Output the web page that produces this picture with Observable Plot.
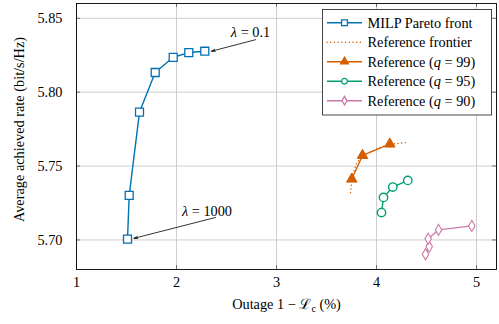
<!DOCTYPE html>
<html><head><meta charset="utf-8">
<script src="https://cdn.jsdelivr.net/npm/d3@7"></script>
<script src="https://cdn.jsdelivr.net/npm/@observablehq/plot@0.6"></script>
<style>
body{margin:0;background:#fff}
svg{font-family:"Liberation Serif","Times New Roman",serif}
</style>
</head><body><div id="chart"></div>
<script>
// ---- data ----
const milpOutage   = [1.51, 1.527, 1.63, 1.787, 1.967, 2.123, 2.283];
const milpRate     = [5.7005, 5.7302, 5.7865, 5.8133, 5.8236, 5.8268, 5.8277];
const frontOutage  = [3.74, 3.76, 3.80, 3.86, 3.95, 4.05, 4.17, 4.31];
const frontRate    = [5.732, 5.744, 5.752, 5.757, 5.760, 5.763, 5.765, 5.766];
const q99Outage    = [3.753, 3.86, 4.133];
const q99Rate      = [5.7412, 5.7572, 5.7649];
const q95Outage    = [4.05, 4.07, 4.163, 4.313];
const q95Rate      = [5.7185, 5.7288, 5.7358, 5.7403];
const q90Outage    = [4.49, 4.527, 4.517, 4.62, 4.953];
const q90Rate      = [5.6903, 5.6955, 5.7008, 5.7068, 5.7095];
const xTicks = [1, 2, 3, 4, 5];
const yTicks = [5.70, 5.75, 5.80, 5.85];
const legendLabels = ["MILP Pareto front", "Reference frontier", "Reference (q = 99)", "Reference (q = 95)", "Reference (q = 90)"];
const annotText = ["λ = 0.1", "λ = 1000"];
const annotTextX = [2.74, 2.305];
const annotTextY = [5.8405, 5.7196];
const arrowFromX = [2.79, 2.39];
const arrowFromY = [5.8355, 5.7152];
const arrowToX   = [2.35, 1.575];
const arrowToY   = [5.8277, 5.7011];

const C = {blue:"#0072B2", orange:"#D55E00", green:"#009E73", pink:"#CC79A7"};
const zip = (xs, ys) => xs.map((x, i) => ({x, y: ys[i]}));
const milp = zip(milpOutage, milpRate);
const front = zip(frontOutage, frontRate);
const q99 = zip(q99Outage, q99Rate);
const q95 = zip(q95Outage, q95Rate);
const q90 = zip(q90Outage, q90Rate);
const annots = annotText.map((t, i) => ({t, x: annotTextX[i], y: annotTextY[i], x1: arrowFromX[i], y1: arrowFromY[i], x2: arrowToX[i], y2: arrowToY[i]}));

const W = 499, H = 324, mL = 76, mR = 3, mT = 3, mB = 55;
const fw = W - mL - mR, fh = H - mT - mB;
const FS = 14.3;

const plot = Plot.plot({
  width: W, height: H,
  marginLeft: mL, marginRight: mR, marginTop: mT, marginBottom: mB,
  style: {fontFamily: '"Liberation Serif","Times New Roman",serif', fontSize: FS + "px", background: "#fff", color: "#000"},
  x: {domain: [1, 5.2]},
  y: {domain: [5.68, 5.86]},
  marks: [
    Plot.gridX(xTicks, {stroke: "#c8c8c8", strokeOpacity: 1, strokeWidth: 0.9}),
    Plot.gridY(yTicks, {stroke: "#c8c8c8", strokeOpacity: 1, strokeWidth: 0.9}),
    Plot.tickX(xTicks, {x: d => d, insetTop: fh - 4, stroke: "#555", strokeWidth: 0.8}),
    Plot.tickX(xTicks, {x: d => d, insetBottom: fh - 4, stroke: "#555", strokeWidth: 0.8}),
    Plot.tickY(yTicks, {y: d => d, insetRight: fw - 4, stroke: "#555", strokeWidth: 0.8}),
    Plot.tickY(yTicks, {y: d => d, insetLeft: fw - 4, stroke: "#555", strokeWidth: 0.8}),
    Plot.axisX(xTicks, {tickSize: 0, tickPadding: 7, label: null, fontSize: FS}),
    Plot.axisY(yTicks, {tickSize: 0, tickPadding: 14, label: null, tickFormat: d3.format(".2f"), fontSize: FS}),
    Plot.frame({stroke: "#000", strokeWidth: 0.9}),
    // series
    Plot.line(front, {x: "x", y: "y", stroke: C.orange, strokeWidth: 1.4, strokeDasharray: "0.1,3.6", strokeLinecap: "round"}),
    Plot.line(milp, {x: "x", y: "y", stroke: C.blue, strokeWidth: 1.4}),
    Plot.dot(milp, {x: "x", y: "y", symbol: "square", r: 4.5, stroke: C.blue, fill: "white", strokeWidth: 1.3}),
    Plot.line(q99, {x: "x", y: "y", stroke: C.orange, strokeWidth: 1.4}),
    Plot.dot(q99, {x: "x", y: "y", symbol: "triangle", r: 3.9, fill: C.orange, stroke: C.orange, strokeWidth: 1}),
    Plot.line(q95, {x: "x", y: "y", stroke: C.green, strokeWidth: 1.4}),
    Plot.dot(q95, {x: "x", y: "y", symbol: "circle", r: 4.2, stroke: C.green, fill: "white", strokeWidth: 1.4}),
    Plot.line(q90, {x: "x", y: "y", stroke: C.pink, strokeWidth: 1.3}),
    Plot.dot(q90, {x: "x", y: "y", symbol: "diamond", r: 3.4, stroke: C.pink, fill: "white", strokeWidth: 1.1}),
    // annotations
    Plot.arrow(annots, {x1: "x1", y1: "y1", x2: "x2", y2: "y2", stroke: "#000", strokeWidth: 0.8, headLength: 7, headAngle: 35}),
    Plot.text(annots, {x: "x", y: "y", text: "t", fontSize: FS, fill: "#000"}),
    // axis labels
    Plot.text(["Outage 1 − ℒc (%)"], {frameAnchor: "bottom", dy: 39, fontSize: FS, fill: "#000", className: "xlab"}),
    Plot.text(["Average achieved rate (bit/s/Hz)"], {frameAnchor: "left", textAnchor: "middle", dx: -57, dy: -7, rotate: -90, fontSize: FS, fill: "#000"})
  ]
});

document.getElementById("chart").append(plot);
const svg = d3.select(plot);

// subscript on x label
svg.selectAll(".xlab text").each(function() {
  const t = d3.select(this);
  t.text(null);
  t.append("tspan").text("Outage 1 − ℒ");
  t.append("tspan").attr("font-size", "10px").attr("dy", "3").text("c");
  t.append("tspan").attr("dy", "-3").text(" (%)");
});
// italic lambda
svg.selectAll("text").each(function() {
  const t = d3.select(this);
  const s = t.text();
  if (s.startsWith("λ") && t.selectAll("tspan").empty()) {
    t.text(null);
    t.append("tspan").attr("font-style", "italic").text("λ");
    t.append("tspan").text(s.slice(1));
  }
});

// legend
const lx = 322.5, ly = 9.5, lw = 169, lh = 105.5;
const g = svg.append("g").attr("text-anchor", "start");
g.append("rect").attr("x", lx).attr("y", ly).attr("width", lw).attr("height", lh)
  .attr("fill", "white").attr("stroke", "#333").attr("stroke-width", 0.9);
const items = [
  {c: C.blue, sym: d3.symbolSquare, r: 3.3, fill: "white", dash: null},
  {c: C.orange, sym: null, dash: "0.1,3.6"},
  {c: C.orange, sym: d3.symbolTriangle, r: 2.9, fill: C.orange, dash: null},
  {c: C.green, sym: d3.symbolCircle, r: 2.9, fill: "white", dash: null},
  {c: C.pink, sym: d3.symbolDiamond, r: 2.6, fill: "white", dash: null}
];
items.forEach((it, i) => {
  const y = ly + 13.2 + i * 19.5;
  const row = g.append("g");
  row.append("line").attr("x1", lx + 4.5).attr("x2", lx + 39.5).attr("y1", y).attr("y2", y)
    .attr("stroke", it.c).attr("stroke-width", 1.4)
    .attr("stroke-dasharray", it.dash).attr("stroke-linecap", it.dash ? "round" : null);
  if (it.sym) {
    row.append("path").attr("transform", `translate(${lx + 22},${y})`)
      .attr("d", d3.symbol(it.sym, it.r * it.r * Math.PI)())
      .attr("fill", it.fill).attr("stroke", it.c).attr("stroke-width", 1.3);
  }
  const tx = row.append("text").attr("x", lx + 45).attr("y", y).attr("dy", "0.35em")
    .attr("text-anchor", "start")
    .attr("font-size", FS + "px").attr("fill", "#000");
  const lab = legendLabels[i];
  const m = lab.match(/^(.*\()q( = .*)$/);
  if (m) {
    tx.append("tspan").text(m[1]);
    tx.append("tspan").attr("font-style", "italic").text("q");
    tx.append("tspan").text(m[2]);
  } else tx.text(lab);
});
</script>
</body></html>
